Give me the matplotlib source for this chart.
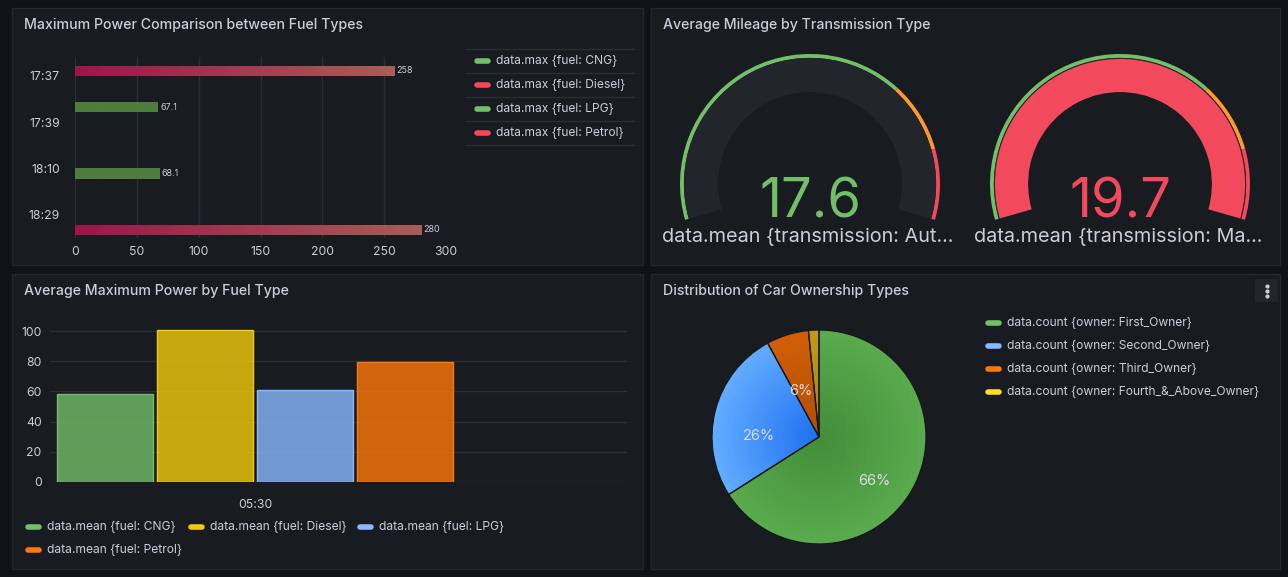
import numpy as np
import matplotlib
matplotlib.use('Agg')
import matplotlib.pyplot as plt
from matplotlib import patches
from matplotlib.lines import Line2D
from matplotlib.colors import LinearSegmentedColormap

##########
#  Data  #
##########

fuel_types = ['CNG', 'Diesel', 'LPG', 'Petrol']

# panel 1: max power per fuel, one time row each
max_times = ['17:37', '17:39', '18:10', '18:29']
max_fuel = ['Diesel', 'CNG', 'LPG', 'Petrol']
max_power = [258, 67.1, 68.1, 280]

# panel 2: gauges
transmissions = ['Automatic', 'Manual']
mileage_mean = [17.6, 19.7]

# panel 3: average max power
mean_time = '05:30'
mean_power = [58.3, 100.5, 60.9, 79.4]

# panel 4: ownership
owners = ['First_Owner', 'Second_Owner', 'Third_Owner', 'Fourth_&_Above_Owner']
owner_count = [5215, 2060, 505, 125]

##########
# Styles #
##########

W, H = 1288, 577
BG = '#111217'
PANEL = '#181b1f'
BORDER = '#24272d'
TXT = '#ccccdc'
GRID = '#2b2e34'
FONT = 'Inter'
LEG = 8.7

plt.rcParams['font.family'] = [FONT, 'DejaVu Sans']

max_cols = {'CNG': '#73bf69', 'Diesel': '#f2495c', 'LPG': '#73bf69', 'Petrol': '#f2495c'}
max_grad = {'CNG': ('#4f7d3e', '#4f7d3e'), 'Diesel': ('#9c164a', '#a85e56'),
            'LPG': ('#4f7d3e', '#4f7d3e'), 'Petrol': ('#9c164a', '#a85e56')}
mean_cols = ['#73bf69', '#f2cc0c', '#8ab8ff', '#ff780a']
owner_cols = ['#73bf69', '#8ab8ff', '#ff780a', '#fade2a']
owner_grad = [('#438d39', '#5aab4e'), ('#1f6ff2', '#62adff'),
              ('#b04e08', '#d25f06'), ('#a1820e', '#c09c15')]
# pie label placement: (radius, angle nudge in degrees)
pie_lab = [(0.66, -10), (0.56, 13), (0.465, 4), (0.5, 0)]

fig = plt.figure(figsize=(W / 100, H / 100), dpi=100, facecolor=BG)


def fx(x):
    return x / W


def fy(y):
    return 1 - y / H


def px_ax(x0, y0, x1, y1):
    ax = fig.add_axes([fx(x0), fy(y1), (x1 - x0) / W, (y1 - y0) / H])
    ax.set_facecolor('none')
    return ax


def legend_item(x, y, col, label, size=LEG):
    fig.add_artist(Line2D([fx(x), fx(x + 11)], [fy(y), fy(y)], color=col, lw=4,
                          solid_capstyle='round', transform=fig.transFigure))
    fig.text(fx(x + 19), fy(y), label, color=TXT, fontsize=size, va='center')


def fit_text(s, maxw, size):
    r = fig.canvas.get_renderer()
    t = fig.text(0, 0, s, fontsize=size)
    cut = len(s)
    while t.get_window_extent(r).width > maxw and cut > 1:
        cut -= 1
        t.set_text(s[:cut] + '...')
    out = t.get_text()
    t.remove()
    return out


def gradient_fill(ax, patch, c0, c1, extent, radial=False):
    cm = LinearSegmentedColormap.from_list('g', [c0, c1])
    if radial:
        g = np.linspace(-1, 1, 300)
        xx, yy = np.meshgrid(g, g)
        img = np.sqrt(xx ** 2 + yy ** 2)
    else:
        img = np.linspace(0, 1, 256).reshape(1, -1)
    im = ax.imshow(img, cmap=cm, extent=extent, aspect='auto', zorder=1,
                   interpolation='bilinear', vmin=0, vmax=1)
    im.set_clip_path(patch)


def style_ticks(ax, size=8.8):
    ax.tick_params(colors=TXT, labelsize=size, length=0)
    for s in ax.spines.values():
        s.set_visible(False)


# panels
panels = [(12, 8, 643, 265), (651, 8, 1280, 265), (12, 274, 643, 569), (651, 274, 1280, 569)]
titles = ['Maximum Power Comparison between Fuel Types', 'Average Mileage by Transmission Type',
          'Average Maximum Power by Fuel Type', 'Distribution of Car Ownership Types']
for (x0, y0, x1, y1), t in zip(panels, titles):
    fig.add_artist(patches.Rectangle((fx(x0), fy(y1)), (x1 - x0) / W, (y1 - y0) / H,
                                     transform=fig.transFigure, fc=PANEL, ec=BORDER, lw=1,
                                     zorder=-10))
    fig.text(fx(x0 + 12), fy(y0 + 17), t, color=TXT, fontsize=10.2, va='center',
             fontweight='medium')

###########
# Panel 1 #
###########

ax1 = px_ax(75, 57, 446, 238)
slot = 0.216
bar_h = 0.225
for i, (f, v) in enumerate(zip(max_fuel, max_power)):
    k = fuel_types.index(f)
    yc = i + (k - 1.5) * slot
    bar = ax1.barh(yc, v, height=bar_h, color='none', zorder=2)[0]
    c0, c1 = max_grad[f]
    gradient_fill(ax1, bar, c0, c1, (0, v, yc + bar_h / 2, yc - bar_h / 2))
    ax1.text(v + 2, yc, f'{v:g}', color=TXT, fontsize=6.5, va='center', ha='left')
ax1.set_xlim(0, 300)
ax1.set_ylim(3.5, -0.41)
ax1.set_xticks(np.arange(0, 301, 50))
ax1.set_yticks(np.arange(len(max_times)))
ax1.set_yticklabels(max_times)
ax1.grid(axis='x', color=GRID, lw=1)
ax1.set_axisbelow(True)
style_ticks(ax1)
ax1.tick_params(axis='y', pad=11)
ax1.tick_params(axis='x', pad=6)

# legend with separators
for k in range(len(fuel_types) + 1):
    yy = 49 + 24 * k
    fig.add_artist(Line2D([fx(466), fx(634)], [fy(yy), fy(yy)], color=GRID, lw=1,
                          transform=fig.transFigure))
for k, f in enumerate(fuel_types):
    legend_item(477, 61 + 24 * k, max_cols[f], f'data.max {{fuel: {f}}}')

###########
# Panel 2 #
###########

vmin, vmax = min(mileage_mean), max(mileage_mean)
steps = [(0, '#73bf69'), (70, '#ff9830'), (85, '#f2495c')]
A0, SW = 196, 212
R = 130.0
for j, (name, val) in enumerate(zip(transmissions, mileage_mean)):
    cx = 810 + 310 * j
    gx = px_ax(cx - 136, 48, cx + 136, 230)
    gx.set_xlim(-136 / R, 136 / R)
    gx.set_ylim(-46 / R, 136 / R)
    gx.axis('off')
    # threshold band
    for s, (p, c) in enumerate(steps):
        p_end = steps[s + 1][0] if s + 1 < len(steps) else 100
        gx.add_patch(patches.Wedge((0, 0), 1.0, A0 - SW * p_end / 100, A0 - SW * p / 100,
                                   width=0.03, fc=c, ec='none'))
    gx.add_patch(patches.Wedge((0, 0), 0.97, A0 - SW, A0, width=0.263, fc='#22252b', ec='none'))
    pct = 100 * (val - vmin) / (vmax - vmin)
    col = [c for p, c in steps if pct >= p][-1]
    if pct > 0:
        gx.add_patch(patches.Wedge((0, 0), 0.962, A0 - SW * pct / 100, A0, width=0.255,
                                   fc=col, ec='none'))
    gx.text(0, -34 / R, f'{val:g}', color=col, fontsize=39, ha='center', va='baseline')
    lab = fit_text(f'data.mean {{transmission: {name}}}', 296, 14.3)
    fig.text(fx(cx - 2), fy(242), lab, color=TXT, fontsize=14.3, ha='center', va='baseline')

###########
# Panel 3 #
###########

ax3 = px_ax(50, 320, 627, 482)
unit = 400.0
bw = 0.24
for k, (f, v) in enumerate(zip(fuel_types, mean_power)):
    xc = (k - 1.5) * 0.25
    ax3.bar(xc, v, width=bw, color=mean_cols[k], alpha=0.8, zorder=2, lw=0)
    ax3.bar(xc, v, width=bw, fill=False, edgecolor=mean_cols[k], lw=1, zorder=3)
ax3.set_xlim(-205 / unit, 372 / unit)
ax3.set_yticks(np.arange(0, 101, 20))
ax3.set_xticks([0])
ax3.set_xticklabels([mean_time])
ax3.grid(axis='y', color=GRID, lw=1)
ax3.set_axisbelow(True)
style_ticks(ax3)
ax3.tick_params(axis='y', pad=6)
ax3.tick_params(axis='x', pad=12)
ax3.set_ylim(0, 107.3)

leg3 = [(28, 527), (191, 527), (360, 527), (28, 550)]
for (lx, ly), f, c in zip(leg3, fuel_types, mean_cols):
    legend_item(lx, ly, c, f'data.mean {{fuel: {f}}}')

###########
# Panel 4 #
###########

pr = 107.0
ax4 = px_ax(819 - 1.1 * pr, 437 - 1.1 * pr, 819 + 1.1 * pr, 437 + 1.1 * pr)
wedges, _ = ax4.pie(owner_count, startangle=90, counterclock=False, radius=1,
                    wedgeprops=dict(ec='#15171b', lw=0.9))
tot = sum(owner_count)
ang = 90.0
for w, n, g, (rr, nud) in zip(wedges, owner_count, owner_grad, pie_lab):
    w.set_facecolor('none')
    w.set_zorder(3)
    gradient_fill(ax4, w, g[0], g[1], (-1, 1, -1, 1), radial=True)
    frac = n / tot
    mid = np.deg2rad(ang - 180 * frac + nud)
    ang -= 360 * frac
    if frac >= 0.03:
        ax4.text(rr * np.cos(mid), rr * np.sin(mid), f'{round(100 * frac)}%', color='#dcdde6',
                 fontsize=10.5, ha='center', va='center', zorder=4)
ax4.set_xlim(-1.1, 1.1)
ax4.set_ylim(-1.1, 1.1)
ax4.set_aspect('equal')
ax4.axis('off')

for k, (o, c) in enumerate(zip(owners, owner_cols)):
    legend_item(988, 323 + 23 * k, c, f'data.count {{owner: {o}}}')

# panel menu
fig.add_artist(patches.Rectangle((fx(1255), fy(302)), 23 / W, 23 / H, transform=fig.transFigure,
                                 fc='#22252b', ec='none'))
for d in (-5, 0, 5):
    fig.add_artist(Line2D([fx(1266.5)], [fy(291 + d)], marker='o', ms=2, color=TXT,
                          transform=fig.transFigure))

fig.savefig('out.png', dpi=100, facecolor=BG)
